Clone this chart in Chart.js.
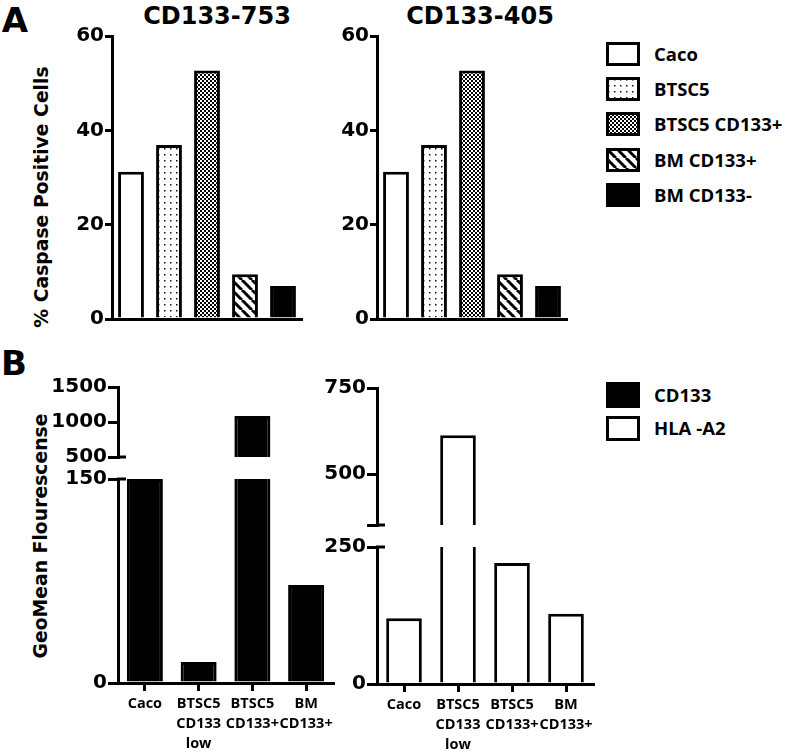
<!DOCTYPE html>
<html>
<head>
<meta charset="utf-8">
<script src="https://cdn.jsdelivr.net/npm/chart.js"></script>
<style>
  body { margin:0; background:#fff; width:797px; height:752px; position:relative; overflow:hidden; }
  canvas { position:absolute; }
  .t { position:absolute; white-space:nowrap; line-height:1; color:#000; font-weight:bold; }
  .c { transform:translate(-50%,-50%); }
  .l { transform:translate(0,-50%); }
  .v { transform:translate(-50%,-50%) rotate(-90deg); }
  .dj { font-family:"DejaVu Sans", sans-serif; }
  .os { font-family:"Open Sans", sans-serif; }
</style>
</head>
<body>

<div class="t dj c" style="left:15px;top:20px;font-size:34px">A</div>
<div class="t dj c" style="left:14px;top:363px;font-size:34px">B</div>
<div class="t dj c" style="left:217px;top:16px;font-size:24px">CD133-753</div>
<div class="t dj c" style="left:480px;top:16px;font-size:24px">CD133-405</div>
<div class="t dj v" style="left:42px;top:197px;font-size:18.8px">% Caspase Positive Cells</div>
<div class="t dj v" style="left:41px;top:536px;font-size:18.8px">GeoMean Flourescense</div>

<script>
// panel A: % caspase positive cells
const groupsA = ['Caco', 'BTSC5', 'BTSC5 CD133+', 'BM CD133+', 'BM CD133-'];
const caspase753 = [31.2, 36.9, 52.7, 9.5, 7.0];
const caspase405 = [31.2, 36.9, 52.7, 9.5, 7.0];
const ticksA = [0, 20, 40, 60];

// panel B: geomean fluorescence (broken axes)
const groupsB = [['Caco'], ['BTSC5', 'CD133', 'low'], ['BTSC5', 'CD133+'], ['BM', 'CD133+']];
const seriesB = ['CD133', 'HLA -A2'];
const cd133 = [150, 15.4, 1086, 72];
const hlaA2 = [120, 613, 221, 128];
const cd133TicksLow = [0, 150];
const cd133TicksHigh = [500, 1000, 1500];
const hlaTicksLow = [0, 250];
const hlaTicksHigh = [352, 500, 750];   // 352 = bottom of the break, no label

const W = 70, PT = 16, PB = 16;

function makePattern(kind) {
  const t = document.createElement('canvas');
  const g = t.getContext('2d');
  if (kind === 'dots') {
    t.width = 6; t.height = 6;
    g.fillStyle = '#fff'; g.fillRect(0, 0, 6, 6);
    g.fillStyle = '#111'; g.fillRect(2, 2, 1.5, 1.5);
  } else if (kind === 'checker') {
    t.width = 4; t.height = 4;
    g.fillStyle = '#fff'; g.fillRect(0, 0, 4, 4);
    g.fillStyle = '#000'; g.fillRect(0, 0, 2, 2); g.fillRect(2, 2, 2, 2);
  } else {
    t.width = 10; t.height = 10;
    g.fillStyle = '#fff'; g.fillRect(0, 0, 10, 10);
    g.strokeStyle = '#000'; g.lineWidth = 3;
    for (const d of [-10, 0, 10]) { g.beginPath(); g.moveTo(d, 0); g.lineTo(d + 10, 10); g.stroke(); }
  }
  return g.createPattern(t, 'repeat');
}
const fillsA = ['#fff', makePattern('dots'), makePattern('checker'), makePattern('stripes'), '#000'];

// short cap on the axis where it is broken
const capPlugin = {
  id: 'breakCap',
  afterDraw(chart, args, opts) {
    if (!opts || !opts.at) return;
    const a = chart.chartArea, ctx = chart.ctx;
    const y = opts.at === 'top' ? a.top : a.bottom;
    ctx.save();
    ctx.strokeStyle = '#000'; ctx.lineWidth = 3;
    ctx.beginPath(); ctx.moveTo(a.left - 1, y); ctx.lineTo(a.left + 8, y); ctx.stroke();
    ctx.restore();
  }
};

function addChart(area, s) {
  const padR = s.padR || 8;
  const bottom = s.xMode === 'labels' ? 72 : PB;
  const w = area.r - area.l + W + padR;
  const h = PT + area.b - area.t + bottom;
  const cv = document.createElement('canvas');
  cv.width = w; cv.height = h;
  cv.style.left = (area.l - W) + 'px';
  cv.style.top = (area.t - PT) + 'px';
  document.body.appendChild(cv);

  let x;
  if (s.xMode === 'labels') {
    x = {
      offset: true,
      grid: { display: true, offset: false, drawOnChartArea: false, drawTicks: true, tickLength: 8, lineWidth: 3, tickWidth: 3, tickColor: '#000', color: '#000' },
      border: { display: true, width: 3, color: '#000' },
      ticks: { color: '#000', font: { family: "'Open Sans'", weight: 'bold', size: 14.5, lineHeight: 1.38 }, padding: 3, maxRotation: 0, autoSkip: false },
      afterFit: sc => { sc.height = 72; }
    };
  } else if (s.xMode === 'line') {
    x = {
      offset: true,
      grid: { display: false },
      border: { display: true, width: 3, color: '#000' },
      ticks: { display: false },
      afterFit: sc => { sc.height = 0; }
    };
  } else {
    x = { display: false, offset: true };
  }

  return new Chart(cv, {
    type: 'bar',
    data: {
      labels: s.labels,
      datasets: [{
        data: s.values,
        backgroundColor: s.fill,
        borderColor: '#000',
        borderWidth: 3,
        borderSkipped: 'start',
        barPercentage: s.barPct,
        categoryPercentage: 1,
        clip: 0
      }]
    },
    options: {
      responsive: false,
      animation: false,
      devicePixelRatio: 1,
      layout: { padding: { top: PT, right: padR, bottom: s.xMode === 'labels' ? 0 : PB, left: 0 } },
      plugins: { legend: { display: false }, tooltip: { enabled: false }, breakCap: { at: s.cap } },
      scales: {
        x: x,
        y: {
          min: s.min, max: s.max,
          afterBuildTicks: sc => { sc.ticks = s.ticks.map(v => ({ value: v })); },
          afterFit: sc => { sc.width = W; },
          grid: { drawOnChartArea: false, drawTicks: true, tickLength: s.tickLen, lineWidth: 3, tickWidth: 3, tickColor: '#000', color: '#000' },
          border: { width: 3, color: '#000' },
          ticks: {
            color: '#000', padding: 1,
            font: { family: "'DejaVu Sans'", weight: 'bold', size: 20 },
            callback: v => (s.hide && s.hide.includes(v)) ? '' : String(v)
          }
        }
      }
    },
    plugins: [capPlugin]
  });
}

// panel A
addChart({ l: 112, t: 36, r: 302, b: 319 }, { labels: groupsA, values: caspase753, fill: fillsA, barPct: 0.68, xMode: 'line', min: 0, max: 60, ticks: ticksA, tickLen: 7 });
addChart({ l: 377, t: 36, r: 567, b: 319 }, { labels: groupsA, values: caspase405, fill: fillsA, barPct: 0.68, xMode: 'line', min: 0, max: 60, ticks: ticksA, tickLen: 7 });

// panel B, CD133 (black)
addChart({ l: 118, t: 387, r: 333, b: 457 }, { labels: groupsB, values: cd133, fill: '#000', barPct: 0.67, xMode: 'none', min: 500, max: 1500, ticks: cd133TicksHigh, tickLen: 10, cap: 'bottom' });
addChart({ l: 118, t: 479, r: 333, b: 683 }, { labels: groupsB, values: cd133, fill: '#000', barPct: 0.67, xMode: 'labels', min: 0, max: 150, ticks: cd133TicksLow, tickLen: 10, cap: 'top', padR: 30 });

// panel B, HLA-A2 (white)
addChart({ l: 377, t: 388, r: 593, b: 525 }, { labels: groupsB, values: hlaA2, fill: '#fff', barPct: 0.66, xMode: 'none', min: 352, max: 750, ticks: hlaTicksHigh, hide: [352], tickLen: 10, cap: 'bottom' });
addChart({ l: 377, t: 547, r: 593, b: 684 }, { labels: groupsB, values: hlaA2, fill: '#fff', barPct: 0.66, xMode: 'labels', min: 0, max: 250, ticks: hlaTicksLow, tickLen: 10, cap: 'top', padR: 30 });

// legends
function legendRow(x, yc, fill, text, h) {
  const c = document.createElement('canvas');
  c.width = 34; c.height = h;
  c.style.left = x + 'px'; c.style.top = (yc - h / 2) + 'px';
  const g = c.getContext('2d');
  g.fillStyle = fill; g.fillRect(0, 0, 34, h);
  g.strokeStyle = '#000'; g.lineWidth = 3; g.strokeRect(1.5, 1.5, 31, h - 3);
  document.body.appendChild(c);
  const d = document.createElement('div');
  d.className = 't os l';
  d.style.cssText = `left:${x + 48}px;top:${yc}px;font-size:18.5px`;
  d.textContent = text;
  document.body.appendChild(d);
}
const legendAY = [53.5, 88.5, 123.5, 160, 194.5];
groupsA.forEach((g, i) => legendRow(606, legendAY[i], fillsA[i], g, 24));
legendRow(606, 395, '#000', seriesB[0], 26);
legendRow(606, 428, '#fff', seriesB[1], 25);
</script>
</body>
</html>
